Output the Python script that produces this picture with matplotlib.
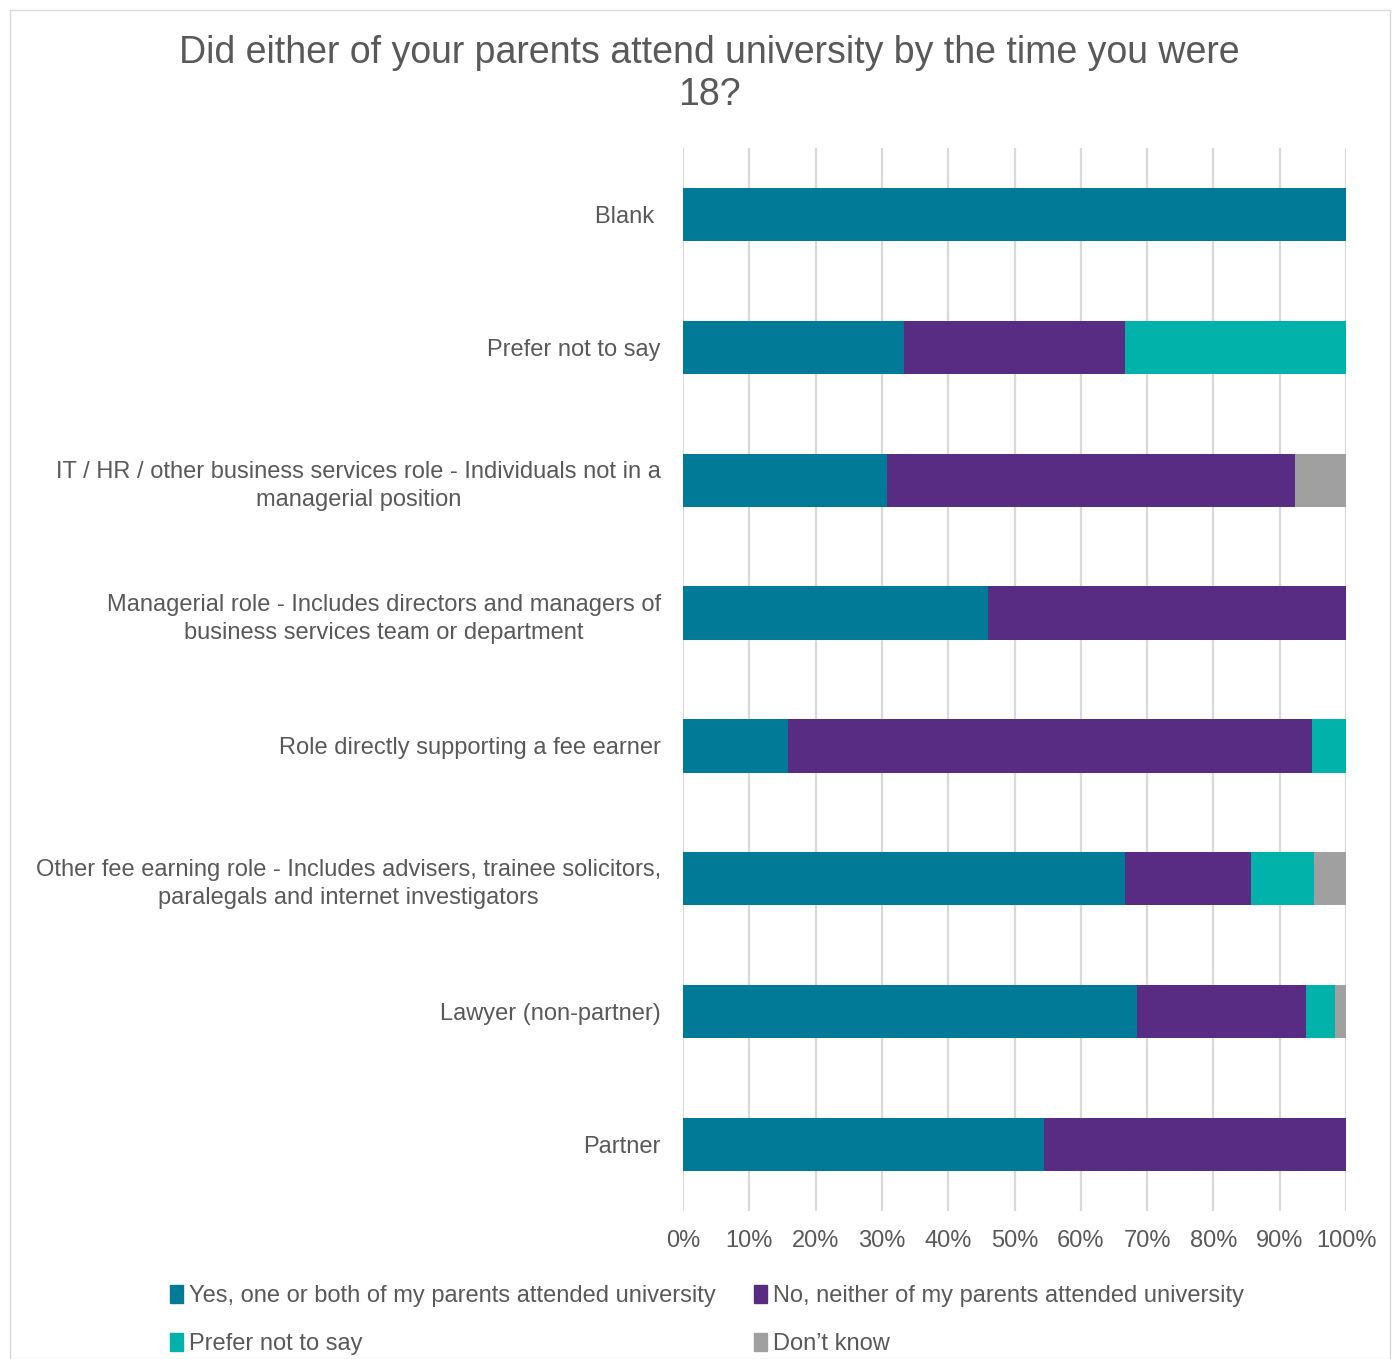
import matplotlib
matplotlib.use("Agg")
import matplotlib.pyplot as plt
import numpy as np
from matplotlib.patches import Rectangle

categories = [
    "Blank ",
    "Prefer not to say",
    "IT / HR / other business services role - Individuals not in a\nmanagerial position",
    "Managerial role - Includes directors and managers of\nbusiness services team or department",
    "Role directly supporting a fee earner",
    "Other fee earning role - Includes advisers, trainee solicitors,\nparalegals and internet investigators",
    "Lawyer (non-partner)",
    "Partner",
]
series_names = [
    "Yes, one or both of my parents attended university",
    "No, neither of my parents attended university",
    "Prefer not to say",
    "Don\u2019t know",
]
yes_vals = [100.0, 33.3, 30.8, 46.0, 15.8, 66.7, 68.5, 54.4]
no_vals = [0.0, 33.3, 61.5, 54.0, 79.0, 19.0, 25.5, 45.6]
pnts_vals = [0.0, 33.4, 0.0, 0.0, 5.2, 9.5, 4.4, 0.0]
dk_vals = [0.0, 0.0, 7.7, 0.0, 0.0, 4.8, 1.6, 0.0]
x_ticks = [0, 10, 20, 30, 40, 50, 60, 70, 80, 90, 100]
x_tick_labels = [f"{t}%" for t in x_ticks]

colors = ["#007A96", "#582C83", "#00B2A9", "#A0A0A0"]
text_color = "#595959"
plt.rcParams["font.family"] = ["Liberation Sans", "DejaVu Sans"]
fs = 17

fig = plt.figure(figsize=(13.97, 13.59), dpi=100)
ax = fig.add_axes([683 / 1397, 1 - 1211 / 1359, (1346 - 683) / 1397, (1211 - 148) / 1359])

y = np.arange(len(categories))
left = np.zeros(len(categories))
for vals, c, name in zip([yes_vals, no_vals, pnts_vals, dk_vals], colors, series_names):
    v = np.array(vals)
    ax.barh(y, v, left=left, height=0.4, color=c, label=name, zorder=3)
    left += v

ax.set_ylim(len(categories) - 0.5, -0.5)
ax.set_xlim(0, 100)
ax.set_xticks(x_ticks)
ax.set_xticklabels(x_tick_labels, fontsize=fs, color=text_color)
ax.set_yticks(y)
ax.set_yticklabels(categories, fontsize=fs, color=text_color, multialignment="center",
                   linespacing=1.35)
ax.tick_params(axis="both", length=0)
ax.tick_params(axis="y", pad=16)
ax.tick_params(axis="x", pad=14)
ax.grid(axis="x", color="#D9D9D9", linewidth=1.6, zorder=0)
for s in ax.spines.values():
    s.set_visible(False)

fig.suptitle("Did either of your parents attend university by the time you were\n18?",
             x=0.508, y=0.974, fontsize=27, color=text_color, linespacing=1.2)

handles = [Rectangle((0, 0), 1, 1, color=c) for c in colors]
order = [0, 2, 1, 3]
fig.legend([handles[i] for i in order], [series_names[i] for i in order], ncol=2,
           loc="lower left", bbox_to_anchor=(149 / 1397, -0.013), frameon=False, fontsize=fs,
           labelcolor=text_color, handlelength=0.55, handleheight=0.8,
           handletextpad=0.25, columnspacing=1.6, labelspacing=1.1)

fig.patches.append(Rectangle((10 / 1397, 0), 1380 / 1397, 1 - 10 / 1359, transform=fig.transFigure,
                             fill=False, edgecolor="#D9D9D9", linewidth=1))

fig.savefig("out.png", dpi=100)
